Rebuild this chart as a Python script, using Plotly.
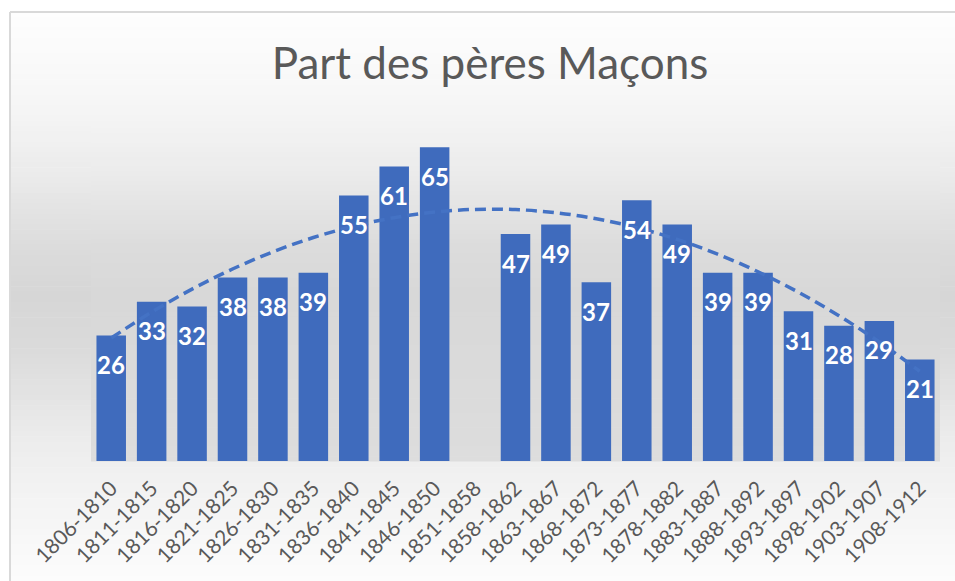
import numpy as np
import plotly.graph_objects as go

categories = ["1806-1810", "1811-1815", "1816-1820", "1821-1825", "1826-1830",
              "1831-1835", "1836-1840", "1841-1845", "1846-1850", "1851-1858",
              "1858-1862", "1863-1867", "1868-1872", "1873-1877", "1878-1882",
              "1883-1887", "1888-1892", "1893-1897", "1898-1902", "1903-1907",
              "1908-1912"]
values = [26, 33, 32, 38, 38, 39, 55, 61, 65, None, 47, 49, 37, 54, 49,
          39, 39, 31, 28, 29, 21]
title_text = "Part des pères Maçons"

W, H = 955, 581
FONT = "Lato"
BLUE = "#4472C4"
L_M, R_EDGE, T_M, BASE = 91, 940, 123, 461
PW, PH = R_EDGE - L_M, BASE - T_M

# polynomial (order 2) trendline, as in the spreadsheet, fitted on existing points
idx = np.arange(1, len(categories) + 1)
mask = np.array([v is not None for v in values])
coef = np.polyfit(idx[mask], np.array([v for v in values if v is not None], float), 2)
trend = np.polyval(coef, idx)

fig = go.Figure()
fig.add_trace(go.Bar(
    x=categories, y=values,
    marker=dict(color="#3F6BBD", line=dict(width=0)),
    width=0.73, hoverinfo="skip", showlegend=False,
))
fig.add_trace(go.Scatter(
    x=categories, y=trend, mode="lines",
    line=dict(color=BLUE, width=3.5, dash="11px,6px", shape="spline"),
    hoverinfo="skip", showlegend=False,
))

annotations = []
for c, v in zip(categories, values):
    if v is None:
        continue
    annotations.append(dict(
        x=c, y=v, xref="x", yref="y", text=str(v), showarrow=False,
        yanchor="middle", yshift=-29,
        font=dict(family=FONT, size=24, color="white", weight="bold"),
    ))


def px_x(x):
    return (x - L_M) / PW


def px_y(y):
    return (BASE - y) / PH


def band(x0, x1, ya, yb, stops, n):
    out = []
    for i in range(n):
        y0 = ya + (yb - ya) * i / n
        y1 = ya + (yb - ya) * (i + 1) / n
        g = np.interp((y0 + y1) / 2, [s[0] for s in stops], [s[1] for s in stops])
        col = f"rgb({int(round(g))},{int(round(g))},{int(round(g))})"
        out.append(dict(type="rect", xref="paper", yref="paper", layer="below",
                        x0=px_x(x0), x1=px_x(x1), y0=px_y(y1 + 0.6), y1=px_y(y0),
                        line=dict(width=0), fillcolor=col))
    return out


outer_stops = [(12, 254), (112, 245), (179, 234), (245, 220), (295, 214),
               (345, 218), (395, 227), (445, 237), (512, 245), (581, 252)]
inner_stops = [(123, 243.5), (179, 234), (245, 220), (295, 216), (461, 221)]

shapes = []
shapes += band(10, W, 12, H, outer_stops, 110)
shapes += band(L_M, R_EDGE, T_M, BASE, inner_stops, 70)
# frame border (top and left)
shapes.append(dict(type="line", xref="paper", yref="paper",
                   x0=px_x(10), x1=px_x(W), y0=px_y(12), y1=px_y(12),
                   line=dict(color="#D9D9D9", width=2)))
shapes.append(dict(type="line", xref="paper", yref="paper",
                   x0=px_x(10), x1=px_x(10), y0=px_y(12), y1=px_y(H),
                   line=dict(color="#D9D9D9", width=2)))

fig.update_layout(
    width=W, height=H,
    margin=dict(l=L_M, r=W - R_EDGE, t=T_M, b=H - BASE),
    paper_bgcolor="white", plot_bgcolor="rgba(0,0,0,0)",
    title=dict(text=title_text, x=490 / W, xanchor="center",
               y=1 - 64 / H, yanchor="middle",
               font=dict(family=FONT, size=44, color="#595959")),
    xaxis=dict(type="category", range=[-0.5, len(categories) - 0.5],
               tickangle=-45, showgrid=False, zeroline=False, showline=False,
               ticks="", ticklabelstandoff=10,
               tickfont=dict(family=FONT, size=21, color="#595959")),
    yaxis=dict(range=[0, 70], visible=False, showgrid=False, zeroline=False),
    bargap=0.27, annotations=annotations, shapes=shapes,
)

fig.write_html("out.html", config={"displayModeBar": False},
               post_script="document.body.style.margin='0px';document.body.style.overflow='hidden';")
